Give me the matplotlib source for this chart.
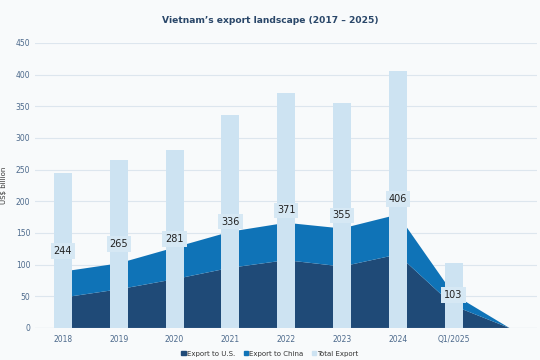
import numpy as np
import matplotlib.pyplot as plt
from matplotlib.patches import Patch

# data
years = ['2018', '2019', '2020', '2021', '2022', '2023', '2024', 'Q1/2025', '']
total = [244, 265, 281, 336, 371, 355, 406, 103]
us = [48, 61, 77, 95, 107, 97, 116, 35, 0]
china = [41, 41, 50, 57, 59, 60, 63, 18, 0]

x = np.arange(len(years))
c_us = '#1f4a77'
c_cn = '#0f73b7'
c_tot = '#cde3f2'
txt = '#4d6a8c'

fig = plt.figure(figsize=(5.4, 3.6), dpi=100)
fig.patch.set_facecolor('#f8fafb')
ax = fig.add_axes([0.065, 0.089, 0.93, 0.792])
ax.set_facecolor('none')

# stacked areas behind the bars
ax.stackplot(x, us, china, colors=[c_us, c_cn], zorder=2)

# total export bars
xb = x[:len(total)]
ax.bar(xb, total, width=0.32, color=c_tot, zorder=3)
for xi, v in zip(xb, total):
    ax.text(xi, v / 2, str(v), ha='center', va='center', fontsize=7,
            color='#222222', zorder=4,
            bbox=dict(boxstyle='square,pad=0.3', fc='#d6e8f4', ec='none'))

ax.set_xlim(-0.5, len(years) - 0.5)
ax.set_ylim(0, 450)
ax.set_yticks(np.arange(0, 451, 50))
ax.set_xticks(x)
ax.set_xticklabels(years)
ax.tick_params(axis='both', length=0, labelsize=5.5, colors=txt)
ax.tick_params(axis='x', pad=5)
ax.grid(axis='y', color='#dde6ee', linewidth=0.8, zorder=0)
ax.set_axisbelow(True)
for s in ax.spines.values():
    s.set_visible(False)
ax.axhline(0, color='#cfd8e0', linewidth=0.8, zorder=1)

ax.set_ylabel('US$ billion', fontsize=5, color='#333333', labelpad=6)
fig.suptitle('Vietnam\u2019s export landscape (2017 \u2013 2025)', x=0.5, y=0.955,
             fontsize=6.6, fontweight='bold', color='#2a4769')

handles = [Patch(color=c_us, label='Export to U.S.'),
           Patch(color=c_cn, label='Export to China'),
           Patch(color=c_tot, label='Total Export')]
fig.legend(handles=handles, loc='lower center', bbox_to_anchor=(0.5, -0.008), ncol=3,
           frameon=False, fontsize=5, handlelength=0.6, handleheight=0.6,
           handletextpad=0.2, columnspacing=1.2, labelcolor='#333333')

fig.savefig('out.png', dpi=100, facecolor=fig.get_facecolor())
